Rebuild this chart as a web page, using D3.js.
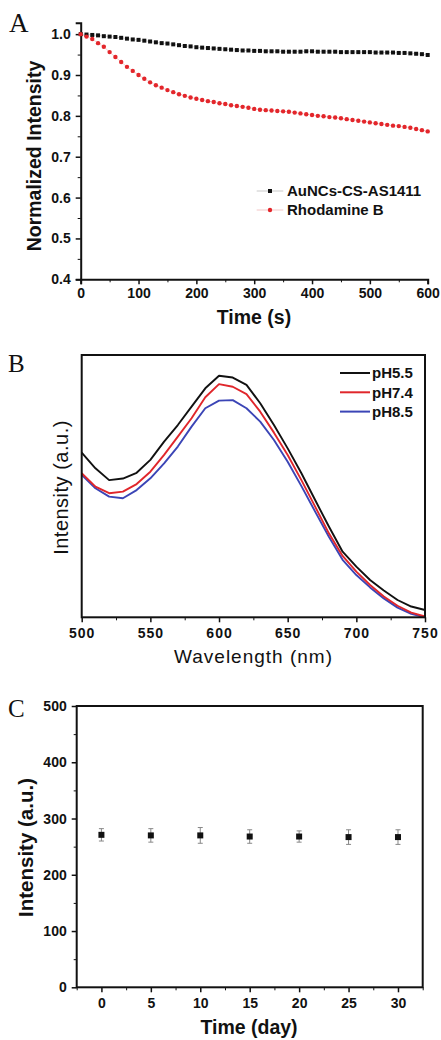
<!DOCTYPE html>
<html>
<head>
<meta charset="utf-8">
<script src="https://cdn.jsdelivr.net/npm/d3@7"></script>
<style>
  body { margin: 0; background: #fff; }
  svg { display: block; }
  .ax path, .ax line { stroke: #111; }
  .ax text { font-family: "Liberation Sans", Arial, sans-serif; font-weight: bold; fill: #111; }
</style>
</head>
<body>
<div id="chart"></div>
<script>
// --- panel A: photostability ---
const timeA = [0,10,20,30,40,50,60,70,80,90,100,110,120,130,140,150,160,170,180,190,200,
  210,220,230,240,250,260,270,280,290,300,310,320,330,340,350,360,370,380,390,400,
  410,420,430,440,450,460,470,480,490,500,510,520,530,540,550,560,570,580,590,600];
const aunc = [1.000,0.999,0.998,0.997,0.995,0.994,0.993,0.991,0.989,0.987,0.986,0.984,0.982,0.980,0.978,0.977,
  0.975,0.973,0.971,0.970,0.968,0.967,0.966,0.965,0.964,0.963,0.962,0.961,0.960,0.960,0.959,
  0.959,0.958,0.958,0.958,0.957,0.957,0.957,0.957,0.958,0.958,
  0.957,0.957,0.957,0.957,0.956,0.956,0.956,0.956,0.956,0.956,
  0.955,0.955,0.955,0.955,0.954,0.954,0.953,0.952,0.951,0.949,0.947];
const rhodB = [1.000,0.994,0.988,0.978,0.969,0.956,0.944,0.932,0.920,0.910,0.900,0.891,0.882,0.875,0.869,0.863,
  0.858,0.853,0.849,0.845,0.842,0.839,0.836,0.834,0.831,0.829,0.826,0.824,0.822,0.820,0.817,
  0.815,0.814,0.813,0.812,0.811,0.810,0.808,0.806,0.804,0.802,
  0.800,0.799,0.797,0.796,0.794,0.792,0.790,0.788,0.786,0.784,
  0.782,0.780,0.778,0.776,0.775,0.773,0.771,0.768,0.765,0.762];
const legendA = ["AuNCs-CS-AS1411", "Rhodamine B"];

// --- panel B: pH spectra ---
const wavelength = [500,510,520,530,540,550,560,570,580,590,600,610,620,630,640,650,660,670,680,690,700,710,720,730,740,750];
const ph55 = [0.628,0.568,0.523,0.529,0.551,0.600,0.670,0.733,0.803,0.873,0.921,0.914,0.886,0.816,0.733,0.644,0.549,0.447,0.346,0.250,0.193,0.142,0.102,0.066,0.041,0.028];
const ph74 = [0.549,0.498,0.473,0.479,0.508,0.555,0.619,0.689,0.759,0.839,0.889,0.879,0.851,0.784,0.704,0.619,0.523,0.422,0.320,0.234,0.174,0.123,0.079,0.044,0.018,0.003];
const ph85 = [0.543,0.492,0.460,0.454,0.485,0.530,0.587,0.651,0.727,0.797,0.826,0.828,0.797,0.746,0.676,0.593,0.500,0.403,0.307,0.219,0.161,0.114,0.072,0.037,0.013,0.000];
const legendB = ["pH5.5", "pH7.4", "pH8.5"];

// --- panel C: storage stability ---
const days = [0,5,10,15,20,25,30];
const intensC = [271,270,270,268,268,267,267];
const errC = [11,12,14,12,10,13,13];

const W = 441, H = 1040;
const FONT = '"Liberation Sans", Arial, sans-serif';
const svg = d3.select("#chart").append("svg").attr("width", W).attr("height", H);

function letter(txt, x, y, size) {
  svg.append("text").attr("x", x).attr("y", y).text(txt)
    .style("font-family", '"Liberation Serif", "Times New Roman", serif')
    .style("font-size", size + "px").attr("fill", "#111");
}
function minorTicks(g, axis) {
  g.call(axis);
  g.selectAll("text").remove();
  g.select(".domain").remove();
}
function tickText(a, extra) {
  a.selectAll("text").style("font-size", "14px").style("font-weight", "bold")
    .style("font-family", FONT).style("letter-spacing", extra || "0px");
}

// ================= A =================
{
  const x = d3.scaleLinear().domain([0, 600]).range([80.7, 427.7]);
  const y = d3.scaleLinear().domain([0.4, 1.028]).range([279.3, 22.7]);
  const g = svg.append("g");

  const xa = g.append("g").attr("class", "ax").attr("transform", "translate(0,279.3)")
    .call(d3.axisBottom(x).tickValues(d3.range(0, 601, 100)).tickSize(5).tickPadding(4));
  minorTicks(g.append("g").attr("class", "ax").attr("transform", "translate(0,279.3)"),
    d3.axisBottom(x).tickValues(d3.range(50, 600, 100)).tickSize(3));
  const ya = g.append("g").attr("class", "ax").attr("transform", "translate(80.7,0)")
    .call(d3.axisLeft(y).tickValues(d3.range(0.4, 1.01, 0.1)).tickFormat(d3.format(".1f")).tickSize(5).tickPadding(5));
  minorTicks(g.append("g").attr("class", "ax").attr("transform", "translate(80.7,0)"),
    d3.axisLeft(y).tickValues([0.45,0.55,0.65,0.75,0.85,0.95]).tickSize(3));
  [xa, ya].forEach(a => {
    a.select(".domain").attr("stroke-width", 2);
    a.selectAll(".tick line").attr("stroke-width", 1.5);
    tickText(a);
  });

  const ptsA = timeA.map((t, i) => ({ t, a: aunc[i], r: rhodB[i] }));
  const lineGen = key => d3.line().x(d => x(d.t)).y(d => y(d[key]));
  g.append("path").datum(ptsA).attr("d", lineGen("a")).attr("fill", "none").attr("stroke", "#bbb").attr("stroke-width", 0.6);
  g.append("path").datum(ptsA).attr("d", lineGen("r")).attr("fill", "none").attr("stroke", "#f0b0b0").attr("stroke-width", 0.6);
  g.selectAll(".sq").data(ptsA).join("rect").attr("class", "sq")
    .attr("x", d => x(d.t) - 2).attr("y", d => y(d.a) - 2).attr("width", 4).attr("height", 4).attr("fill", "#111");
  g.selectAll(".ci").data(ptsA).join("circle").attr("class", "ci")
    .attr("cx", d => x(d.t)).attr("cy", d => y(d.r)).attr("r", 2.2).attr("fill", "#e3262b");

  // legend
  const lg = g.append("g");
  legendA.forEach((name, i) => {
    const cy = 191 + i * 19;
    lg.append("line").attr("x1", 256.7).attr("x2", 283.3).attr("y1", cy).attr("y2", cy)
      .attr("stroke", i ? "#f0b8b8" : "#bbb").attr("stroke-width", 0.8);
    if (i === 0) lg.append("rect").attr("x", 268).attr("y", cy - 2).attr("width", 4).attr("height", 4).attr("fill", "#111");
    else lg.append("circle").attr("cx", 270).attr("cy", cy).attr("r", 2.2).attr("fill", "#e3262b");
    lg.append("text").attr("x", 287).attr("y", cy + 5.4).text(name)
      .style("font-family", FONT).style("font-weight", "bold").style("font-size", "15px").attr("fill", "#111");
  });

  g.append("text").attr("x", 254).attr("y", 324).attr("text-anchor", "middle").text("Time (s)")
    .style("font-family", FONT).style("font-weight", "bold").style("font-size", "19.5px").attr("fill", "#111");
  g.append("text").attr("transform", "translate(41.3,156) rotate(-90)").attr("text-anchor", "middle").text("Normalized Intensity")
    .style("font-family", FONT).style("font-weight", "bold").style("font-size", "19.5px").attr("fill", "#111");
  letter("A", 9, 32, 27);
}

// ================= B =================
{
  const x = d3.scaleLinear().domain([500, 750]).range([81.7, 425]);
  const y = d3.scaleLinear().domain([0, 1]).range([617.3, 355]);
  const g = svg.append("g");

  const series = [
    { name: legendB[0], vals: ph55, color: "#111111" },
    { name: legendB[1], vals: ph74, color: "#e0262b" },
    { name: legendB[2], vals: ph85, color: "#3b45b6" }
  ];
  const line = d3.line().x((d, i) => x(wavelength[i])).y(d => y(d));
  series.slice().reverse().forEach(s => {
    g.append("path").datum(s.vals).attr("d", line).attr("fill", "none")
      .attr("stroke", s.color).attr("stroke-width", 1.9).attr("stroke-linejoin", "round");
  });

  const xa = g.append("g").attr("class", "ax").attr("transform", "translate(0,617.3)")
    .call(d3.axisBottom(x).tickValues(d3.range(500, 751, 50)).tickSize(5).tickPadding(6));
  minorTicks(g.append("g").attr("class", "ax").attr("transform", "translate(0,617.3)"),
    d3.axisBottom(x).tickValues(d3.range(525, 750, 50)).tickSize(3));
  xa.select(".domain").remove();
  xa.selectAll(".tick line").attr("stroke-width", 1.5);
  tickText(xa, "1px");

  g.append("rect").attr("x", 81.7).attr("y", 355).attr("width", 425 - 81.7).attr("height", 617.3 - 355)
    .attr("fill", "none").attr("stroke", "#111").attr("stroke-width", 2);

  series.forEach((s, i) => {
    const cy = 373 + i * 19.3;
    g.append("line").attr("x1", 340).attr("x2", 370).attr("y1", cy).attr("y2", cy)
      .attr("stroke", s.color).attr("stroke-width", 2);
    g.append("text").attr("x", 372).attr("y", cy + 5.4).text(s.name)
      .style("font-family", FONT).style("font-weight", "bold").style("font-size", "15px").attr("fill", "#111");
  });

  g.append("text").attr("x", 253.5).attr("y", 663.3).attr("text-anchor", "middle").text("Wavelength (nm)")
    .style("font-family", FONT).style("font-size", "19px").style("letter-spacing", "1px").attr("fill", "#111");
  g.append("text").attr("transform", "translate(67.5,487.5) rotate(-90)").attr("text-anchor", "middle").text("Intensity (a.u.)")
    .style("font-family", FONT).style("font-size", "20px").style("letter-spacing", "0.5px").attr("fill", "#111");
  letter("B", 8, 372, 25);
}

// ================= C =================
{
  const x = d3.scaleLinear().domain([-2.5, 32.5]).range([76.7, 422.7]);
  const y = d3.scaleLinear().domain([0, 500]).range([987.3, 706]);
  const g = svg.append("g");

  const xa = g.append("g").attr("class", "ax").attr("transform", "translate(0,987.3)")
    .call(d3.axisBottom(x).tickValues(days).tickSize(5).tickPadding(6));
  minorTicks(g.append("g").attr("class", "ax").attr("transform", "translate(0,987.3)"),
    d3.axisBottom(x).tickValues([-2.5,2.5,7.5,12.5,17.5,22.5,27.5,32.5]).tickSize(3));
  const ya = g.append("g").attr("class", "ax").attr("transform", "translate(76.7,0)")
    .call(d3.axisLeft(y).tickValues(d3.range(0, 501, 100)).tickSize(5).tickPadding(5));
  minorTicks(g.append("g").attr("class", "ax").attr("transform", "translate(76.7,0)"),
    d3.axisLeft(y).tickValues([50,150,250,350,450]).tickSize(3));
  [xa, ya].forEach(a => {
    a.select(".domain").remove();
    a.selectAll(".tick line").attr("stroke-width", 1.5);
    tickText(a);
  });
  g.append("rect").attr("x", 76.7).attr("y", 706).attr("width", 422.7 - 76.7).attr("height", 987.3 - 706)
    .attr("fill", "none").attr("stroke", "#111").attr("stroke-width", 2);

  const ptsC = days.map((d, i) => ({ d, v: intensC[i], e: errC[i] }));
  const eb = g.selectAll(".eb").data(ptsC).join("g").attr("class", "eb").attr("stroke", "#888").attr("stroke-width", 1);
  eb.append("line").attr("x1", d => x(d.d)).attr("x2", d => x(d.d)).attr("y1", d => y(d.v - d.e)).attr("y2", d => y(d.v + d.e));
  eb.append("line").attr("x1", d => x(d.d) - 2.5).attr("x2", d => x(d.d) + 2.5).attr("y1", d => y(d.v - d.e)).attr("y2", d => y(d.v - d.e));
  eb.append("line").attr("x1", d => x(d.d) - 2.5).attr("x2", d => x(d.d) + 2.5).attr("y1", d => y(d.v + d.e)).attr("y2", d => y(d.v + d.e));
  g.selectAll(".sqc").data(ptsC).join("rect").attr("class", "sqc")
    .attr("x", d => x(d.d) - 3).attr("y", d => y(d.v) - 3).attr("width", 6).attr("height", 6).attr("fill", "#111");

  g.append("text").attr("x", 249).attr("y", 1034).attr("text-anchor", "middle").text("Time (day)")
    .style("font-family", FONT).style("font-weight", "bold").style("font-size", "19.5px").attr("fill", "#111");
  g.append("text").attr("transform", "translate(33,847.5) rotate(-90)").attr("text-anchor", "middle").text("Intensity (a.u.)")
    .style("font-family", FONT).style("font-weight", "bold").style("font-size", "20.5px").attr("fill", "#111");
  letter("C", 8, 717, 25);
}
</script>
</body>
</html>
